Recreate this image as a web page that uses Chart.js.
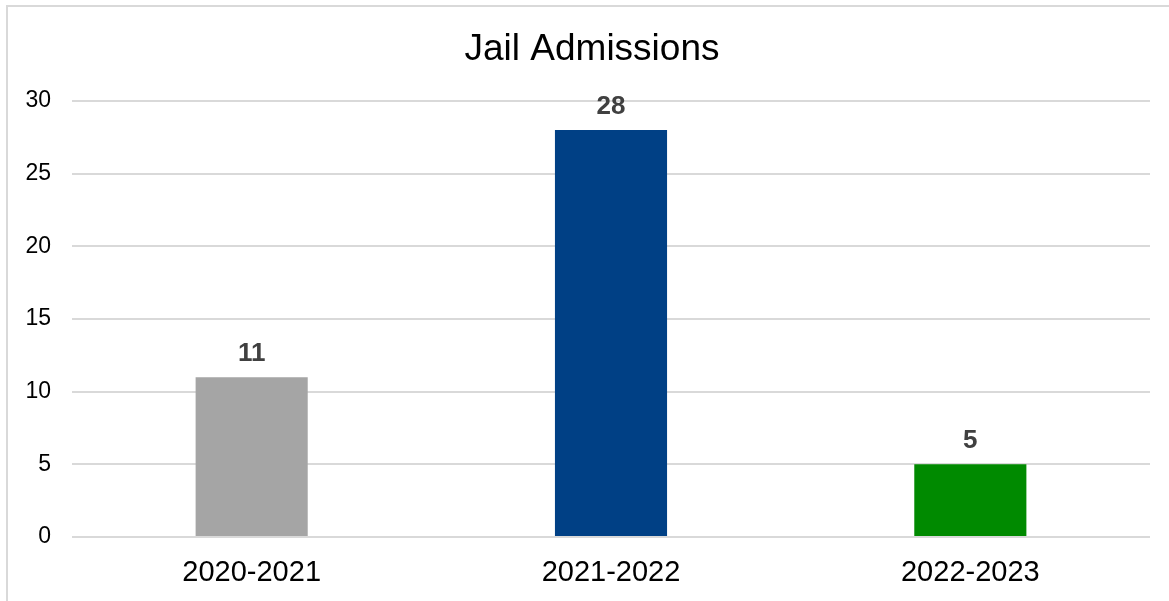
<!DOCTYPE html>
<html>
<head>
<meta charset="utf-8">
<script src="https://cdn.jsdelivr.net/npm/chart.js@4.4.1/dist/chart.umd.min.js"></script>
<style>
  html, body { margin: 0; padding: 0; background: #fff; }
  #wrap { width: 1169px; height: 601px; }
</style>
</head>
<body>
<div id="wrap"><canvas id="admissions" width="1169" height="601"></canvas></div>
<script>
// Jail admissions per fiscal year
const years = ["2020-2021", "2021-2022", "2022-2023"];
const admissions = [11, 28, 5];
const barColors = ["#a5a5a5", "#004085", "#008a00"];
const yTicks = [0, 5, 10, 15, 20, 25, 30];

const FONT = "'Liberation Sans', Arial, sans-serif";

// frame + title + value labels
const decor = {
  id: "decor",
  beforeDraw(chart) {
    const c = chart.ctx;
    c.save();
    c.fillStyle = "#fff";
    c.fillRect(0, 0, chart.width, chart.height);
    c.strokeStyle = "#d9d9d9";
    c.lineWidth = 2;
    c.beginPath();
    c.moveTo(7, chart.height);
    c.lineTo(7, 6);
    c.lineTo(chart.width, 6);
    c.stroke();
    c.fillStyle = "#000";
    c.font = "37px " + FONT;
    c.textAlign = "center";
    c.textBaseline = "alphabetic";
    c.fillText("Jail Admissions", 592, 60);
    c.restore();
  },
  afterDatasetsDraw(chart) {
    const c = chart.ctx;
    const meta = chart.getDatasetMeta(0);
    c.save();
    c.fillStyle = "#404040";
    c.font = "bold 26px " + FONT;
    c.textAlign = "center";
    c.textBaseline = "alphabetic";
    meta.data.forEach((bar, i) => {
      c.fillText(String(admissions[i]), bar.x, bar.y - 16);
    });
    c.restore();
  }
};

new Chart(document.getElementById("admissions"), {
  type: "bar",
  data: {
    labels: years,
    datasets: [{
      data: admissions,
      backgroundColor: barColors,
      borderWidth: 0,
      categoryPercentage: 1,
      barPercentage: 0.312
    }]
  },
  options: {
    responsive: false,
    animation: false,
    layout: { padding: { left: 6, right: 19, top: 101, bottom: 0 } },
    plugins: {
      legend: { display: false },
      title: { display: false },
      tooltip: { enabled: false }
    },
    scales: {
      x: {
        grid: { display: false },
        border: { display: false },
        ticks: { color: "#000", font: { family: FONT, size: 29 }, padding: 11 },
        afterFit(scale) { scale.height = 64; }
      },
      y: {
        min: 0,
        max: 30,
        afterBuildTicks(scale) { scale.ticks = yTicks.map(v => ({ value: v })); },
        grid: { color: "#d9d9d9", lineWidth: 2, drawTicks: false },
        border: { display: false },
        ticks: { color: "#000", font: { family: FONT, size: 23 }, padding: 21 },
        afterFit(scale) { scale.width = 66; }
      }
    }
  },
  plugins: [decor]
});
</script>
</body>
</html>
